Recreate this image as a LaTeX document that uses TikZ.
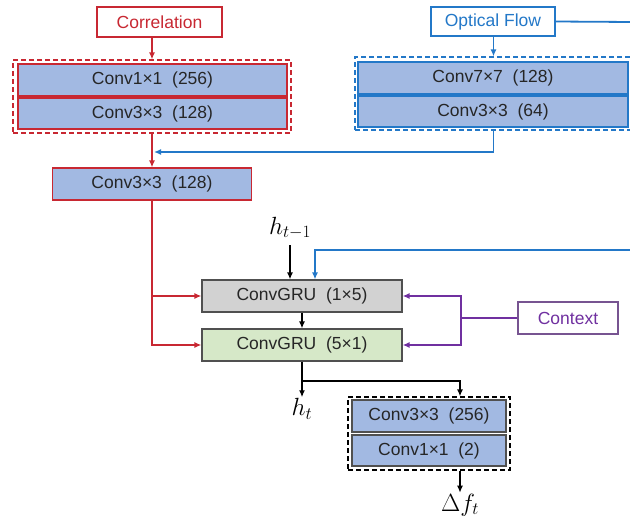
\documentclass[tikz,border=0pt]{standalone}
\usepackage{fontspec}
\setmainfont{Liberation Sans}
\usetikzlibrary{arrows.meta,fit,positioning}
\definecolor{boxblue}{RGB}{162,185,226}
\definecolor{cred}{RGB}{200,40,50}
\definecolor{cblue}{RGB}{35,120,200}
\definecolor{cpurple}{RGB}{112,48,160}
\definecolor{ggray}{RGB}{210,210,210}
\definecolor{ggreen}{RGB}{214,232,200}
\definecolor{dgray}{RGB}{80,80,80}
\tikzset{
  lbl/.style={font=\fontsize{17.5}{20}\selectfont, text=black!85, inner sep=0pt, minimum height=31pt},
  convbox/.style={lbl, fill=boxblue, line width=1.1pt},
  inbox/.style={draw, fill=white, line width=1.1pt, inner sep=0pt, minimum height=30pt, font=\fontsize{17.5}{20}\selectfont},
  grp/.style={draw, dash pattern=on 5pt off 3pt, line width=1.2pt, inner sep=0pt},
  conn/.style={line width=1.8pt, -{Latex[length=7pt,width=6pt]}},
  plain/.style={line width=1.8pt},
  mathlbl/.style={inner sep=1pt, font=\fontsize{23}{26}\selectfont}
}
\begin{document}
\begin{tikzpicture}[x=1pt,y=-1pt]
\useasboundingbox (0,0) rectangle (630,525);
% Correlation branch
\node[inbox, draw=cred, text=cred, minimum width=125pt] (corr) at (159.5,22) {Correlation};
\node[convbox, draw=cred, minimum width=269pt, minimum height=32pt] (c11) at (152.5,80) {Conv1×1~~(256)};
\node[convbox, draw=cred, minimum width=269pt] (c33a) at (152.5,113.5) {Conv3×3~~(128)};
\node[grp, draw=cred, fit={(13,60) (291,133)}] (rgrp) {};
\node[convbox, draw=cred, minimum width=199pt, minimum height=32pt] (c128) at (152,184) {Conv3×3~~(128)};
% Optical flow branch
\node[inbox, draw=cblue, text=cblue, minimum width=124pt, minimum height=29pt] (of) at (493,21.5) {Optical Flow};
\node[convbox, draw=cblue, minimum width=270pt, minimum height=32pt] (c77) at (493,78) {Conv7×7~~(128)};
\node[convbox, draw=cblue, minimum width=270pt] (c33b) at (493,111.5) {Conv3×3~~(64)};
\node[grp, draw=cblue, fit={(355,57) (632,130)}] (bgrp) {};
% GRU
\node[lbl, draw=dgray, fill=ggray, line width=1.1pt, minimum width=200pt, minimum height=32pt] (gru1) at (302,296) {ConvGRU~~(1×5)};
\node[lbl, draw=dgray, fill=ggreen, line width=1.1pt, minimum width=200pt, minimum height=32pt] (gru2) at (302,345) {ConvGRU~~(5×1)};
\node[inbox, draw=cpurple!55!gray, text=cpurple, minimum width=100pt, minimum height=32pt] (ctx) at (568,318) {Context};
% Output head
\node[convbox, draw=dgray, minimum width=154pt, minimum height=32pt] (c256) at (429,416) {Conv3×3~~(256)};
\node[convbox, draw=dgray, minimum width=154pt] (c12) at (429,450.5) {Conv1×1~~(2)};
\node[grp, draw=black, fit={(348,397) (510,470)}] (kgrp) {};
% labels
\node[mathlbl] (hprev) at (290,228) {$h_{t-1}$};
\node[mathlbl] (ht) at (302,409) {$h_t$};
\node[mathlbl] (df) at (460,505) {$\Delta f_t$};
% coordinates
\coordinate (ofr) at (632,22);
\coordinate (bfr) at (632,250);
\coordinate (bj) at (154,152);
\coordinate (jt) at (302,381);
\coordinate (pj) at (461,318);
% red connectors
\draw[conn, cred] (corr.south -| rgrp.north) -- (rgrp.north);
\draw[conn, cred] (rgrp.south) -- (c128.north);
\draw[conn, cred] (c128.south) |- (gru1.west);
\draw[conn, cred] (c128.south) |- (gru2.west);
% blue connectors
\draw[conn, cblue] (of.south -| bgrp.north) -- (bgrp.north);
\draw[conn, cblue] (bgrp.south) |- (bj);
\draw[plain, cblue] (of.east) -- (ofr);
\draw[conn, cblue] (bfr) -| ([xshift=13pt]gru1.north);
% black
\draw[conn, black] (hprev.south |- 0,245) -- (hprev.south |- gru1.north);
\draw[conn, black] (gru1.south) -- (gru2.north);
\draw[plain, black] (gru2.south) -- (jt);
\draw[conn, black] (jt) -- (ht.north);
\draw[conn, black] (jt) -| (kgrp.north -| df);
\draw[conn, black] (kgrp.south -| df) -- (df.north);
% purple
\draw[plain, cpurple] (ctx.west) -- (pj);
\draw[conn, cpurple] (pj) |- (gru1.east);
\draw[conn, cpurple] (pj) |- (gru2.east);
\end{tikzpicture}
\end{document}
